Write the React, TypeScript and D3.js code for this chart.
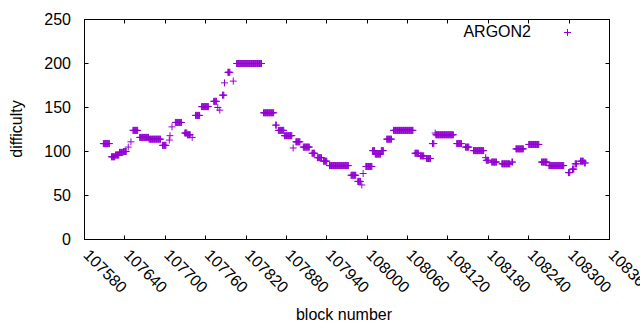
import { useEffect, useRef } from 'react'
import * as d3 from 'd3'

// runs of equal difficulty: every block from start to end has the value
const runStart = [
  107608, 107620, 107626, 107632, 107638, 107645, 107649, 107652, 107662, 107676,
  107696, 107706, 107707, 107710, 107715, 107729, 107733, 107740, 107745, 107754,
  107772, 107778, 107781, 107785, 107788, 107793, 107801, 107806, 107846, 107864,
  107868, 107877, 107890, 107894, 107905, 107918, 107926, 107935, 107944, 107976,
  107986, 107992, 107994, 107998, 108008, 108012, 108021, 108029, 108039, 108071,
  108079, 108088, 108097, 108101, 108102, 108133, 108146, 108158, 108176, 108177,
  108185, 108200, 108215, 108221, 108240, 108259, 108270, 108299, 108305, 108309,
  108317, 108323,
]
const runEnd = [
  107617, 107625, 107631, 107637, 107642, 107645, 107649, 107659, 107675, 107693,
  107701, 107706, 107707, 107710, 107724, 107732, 107737, 107740, 107751, 107764,
  107776, 107778, 107781, 107787, 107788, 107796, 107801, 107843, 107861, 107865,
  107876, 107888, 107890, 107900, 107914, 107922, 107932, 107940, 107972, 107983,
  107990, 107992, 107994, 108007, 108011, 108020, 108024, 108036, 108068, 108076,
  108084, 108094, 108099, 108101, 108128, 108140, 108151, 108173, 108176, 108180,
  108192, 108212, 108216, 108232, 108255, 108267, 108292, 108301, 108307, 108311,
  108321, 108324,
]
const runValue = [
  109, 94, 96, 99, 100, 105, 111, 124, 116, 114,
  107, 113, 118, 128, 133, 121, 119, 116, 141, 151,
  157, 150, 147, 164, 178, 190, 180, 200, 144, 130,
  124, 118, 104, 111, 105, 98, 93, 89, 84, 73,
  66, 62, 75, 83, 101, 97, 101, 114, 124, 98,
  95, 92, 109, 121, 119, 109, 105, 101, 93, 90,
  88, 86, 88, 103, 108, 88, 84, 76, 80, 86,
  89, 87,
]

const xTickValues = [
  107580, 107640, 107700, 107760, 107820, 107880, 107940,
  108000, 108060, 108120, 108180, 108240, 108300, 108360,
]
const yTickValues = [0, 50, 100, 150, 200, 250]
const seriesName = 'ARGON2'

const COLOR = '#9400d3'
const FONT = '"Liberation Sans", Arial, sans-serif'

export default function App() {
  const svgRef = useRef<SVGSVGElement>(null)

  useEffect(() => {
    if (!svgRef.current) return

    const points: { block: number; value: number }[] = []
    runStart.forEach((s, i) => {
      for (let b = s; b <= runEnd[i]; b++) points.push({ block: b, value: runValue[i] })
    })

    const width = 640
    const height = 330
    const left = 84.5
    const right = 609.5
    const top = 19.5
    const bottom = 239.5

    const svg = d3.select(svgRef.current)
    svg.selectAll('*').remove()

    svg.append('rect').attr('width', width).attr('height', height).attr('fill', '#fff')

    const x = d3.scaleLinear().domain([107580, 108360]).range([left, right])
    const y = d3.scaleLinear().domain([0, 250]).range([bottom, top])

    const tickLen = 4

    // x ticks, mirrored on top
    const xt = svg.append('g')
    xt.selectAll('.xtb')
      .data(xTickValues)
      .join('line')
      .attr('x1', d => Math.round(x(d) - 0.5) + 0.5)
      .attr('x2', d => Math.round(x(d) - 0.5) + 0.5)
      .attr('y1', bottom)
      .attr('y2', bottom - tickLen)
      .attr('stroke', '#000')
    xt.selectAll('.xtt')
      .data(xTickValues)
      .join('line')
      .attr('x1', d => Math.round(x(d) - 0.5) + 0.5)
      .attr('x2', d => Math.round(x(d) - 0.5) + 0.5)
      .attr('y1', top)
      .attr('y2', top + tickLen)
      .attr('stroke', '#000')

    // y ticks, mirrored on right
    svg.append('g').selectAll('line')
      .data(yTickValues)
      .join('line')
      .attr('x1', left)
      .attr('x2', left + tickLen)
      .attr('y1', d => Math.round(y(d) - 0.5) + 0.5)
      .attr('y2', d => Math.round(y(d) - 0.5) + 0.5)
      .attr('stroke', '#000')
    svg.append('g').selectAll('line')
      .data(yTickValues)
      .join('line')
      .attr('x1', right)
      .attr('x2', right - tickLen)
      .attr('y1', d => Math.round(y(d) - 0.5) + 0.5)
      .attr('y2', d => Math.round(y(d) - 0.5) + 0.5)
      .attr('stroke', '#000')

    // frame
    svg.append('rect')
      .attr('x', left)
      .attr('y', top)
      .attr('width', right - left)
      .attr('height', bottom - top)
      .attr('fill', 'none')
      .attr('stroke', '#000')

    // y tick labels
    svg.append('g').selectAll('text')
      .data(yTickValues)
      .join('text')
      .attr('x', 71)
      .attr('y', d => y(d) + 5.5)
      .attr('text-anchor', 'end')
      .attr('font-family', FONT)
      .attr('font-size', '16px')
      .attr('fill', '#000')
      .text(d => d)

    // x tick labels, rotated
    svg.append('g').selectAll('text')
      .data(xTickValues)
      .join('text')
      .attr('transform', d => `translate(${x(d) - 2},256) rotate(45)`)
      .attr('text-anchor', 'start')
      .attr('font-family', FONT)
      .attr('font-size', '16px')
      .attr('fill', '#000')
      .text(d => d)

    // axis titles
    svg.append('text')
      .attr('x', 344)
      .attr('y', 320)
      .attr('text-anchor', 'middle')
      .attr('font-family', FONT)
      .attr('font-size', '16px')
      .text('block number')
    svg.append('text')
      .attr('transform', 'translate(22,129) rotate(-90)')
      .attr('text-anchor', 'middle')
      .attr('font-family', FONT)
      .attr('font-size', '16px')
      .text('difficulty')

    // points
    const plus = 'M-3.5,0H3.5M0,-3.5V3.5'
    svg.append('g').selectAll('path')
      .data(points)
      .join('path')
      .attr('transform', d => `translate(${x(d.block)},${y(d.value)})`)
      .attr('d', plus)
      .attr('stroke', COLOR)
      .attr('fill', 'none')

    // legend
    svg.append('text')
      .attr('x', 531)
      .attr('y', 37)
      .attr('text-anchor', 'end')
      .attr('font-family', FONT)
      .attr('font-size', '16px')
      .text(seriesName)
    svg.append('path')
      .attr('transform', 'translate(567.5,32.5)')
      .attr('d', plus)
      .attr('stroke', COLOR)
      .attr('fill', 'none')
  }, [])

  return (
    <svg
      ref={svgRef}
      width={640}
      height={330}
      style={{ position: 'fixed', left: 0, top: 0, display: 'block' }}
    />
  )
}
